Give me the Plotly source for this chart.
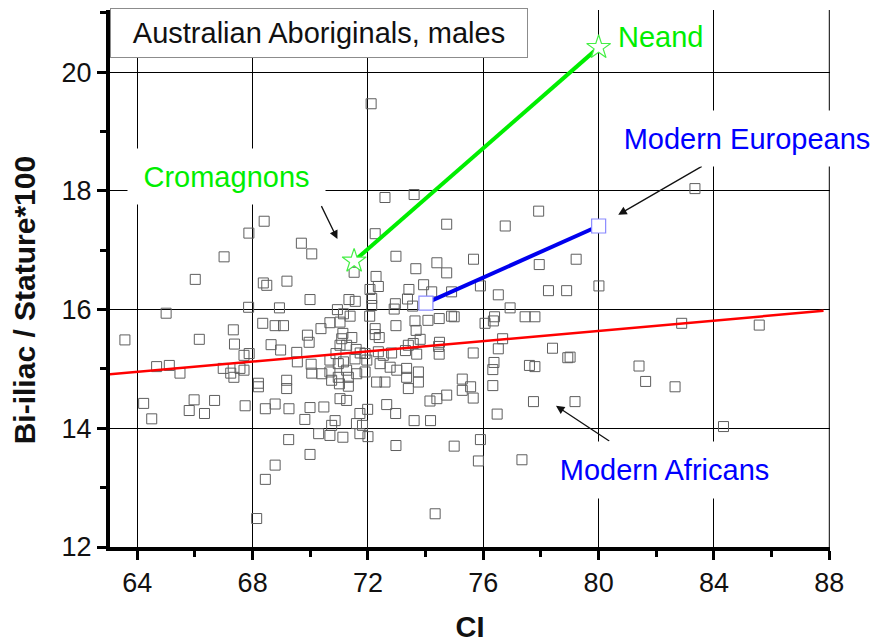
import plotly.graph_objects as go

# Australian Aboriginal males: CI vs Bi-iliac/Stature*100
ci = [72.11, 72.59, 73.60, 77.92, 83.34, 74.73, 76.76, 68.40, 67.87, 69.69,
      70.05, 67.01, 66.01, 68.37, 68.49, 69.19, 72.25, 72.97, 73.66, 74.39,
      74.73, 71.52, 72.28, 72.36, 72.07, 75.66, 77.94, 79.22, 73.42, 73.93,
      74.21, 74.90, 75.90, 76.52, 78.26, 78.89, 80.01, 69.99, 71.34, 71.56,
      72.13, 72.13, 72.95, 72.91, 73.37, 73.55, 68.93, 70.94, 67.86, 65.00,
      76.93, 74.99, 76.06, 76.39, 76.35, 77.45, 77.79, 82.88, 85.57, 71.38,
      72.06, 72.97, 73.63, 74.08, 74.47, 74.90, 68.35, 68.78, 69.07, 70.37,
      70.68, 71.03, 71.15, 67.33, 72.25, 72.25, 72.39, 73.67, 73.81, 69.90,
      69.96, 71.13, 71.09, 71.44, 71.26, 71.03, 73.57, 74.48, 74.45, 76.67,
      76.52, 75.65, 78.40, 78.93, 63.57, 66.15, 67.37, 67.70, 67.88, 68.64,
      68.97, 69.53, 70.89, 71.59, 71.73, 72.36, 72.53, 72.82, 73.30, 73.40,
      73.69, 74.47, 71.90, 71.55, 71.96, 79.01, 70.03, 70.05, 70.40, 70.68,
      70.68, 70.74, 70.97, 70.97, 71.01, 71.26, 71.32, 71.32, 71.61, 71.90,
      72.42, 72.77, 73.00, 73.34, 73.34, 73.75, 73.75, 72.30, 72.59, 73.40,
      71.15, 76.37, 76.33, 77.60, 77.79, 75.27, 75.56, 75.27, 74.73, 75.65,
      76.33, 77.74, 79.18, 81.40, 81.63, 82.65, 64.67, 65.11, 65.48, 66.98,
      67.24, 67.35, 67.56, 67.70, 68.20, 68.20, 69.18, 69.18, 69.55, 74.39,
      74.15, 71.03, 71.26, 64.22, 64.50, 65.80, 65.97, 66.33, 66.68, 67.74,
      68.44, 68.78, 69.26, 69.99, 70.47, 71.72, 71.99, 72.65, 72.96, 69.81,
      70.86, 70.74, 71.60, 71.81, 73.60, 74.17, 76.48, 70.29, 70.68, 71.72,
      72.00, 71.13, 69.25, 69.99, 68.78, 68.44, 68.14, 72.97, 74.99, 75.90,
      75.83, 77.34, 74.33, 84.33]
ratio = [19.47, 17.89, 17.94, 17.66, 18.04, 17.44, 17.41, 17.49, 17.29, 17.12,
         16.94, 16.89, 16.51, 16.45, 16.41, 16.48, 17.28, 16.90, 16.69, 16.79,
         16.62, 16.63, 16.56, 16.39, 16.34, 16.85, 16.76, 16.85, 16.34, 16.42,
         16.30, 16.30, 16.40, 16.25, 16.32, 16.32, 16.40, 16.17, 16.17, 16.14,
         16.19, 16.07, 16.10, 16.01, 16.18, 16.06, 16.03, 16.00, 16.04, 15.94,
         16.03, 15.88, 15.77, 15.88, 15.81, 15.88, 15.88, 15.77, 15.74, 15.89,
         15.89, 15.73, 15.81, 15.82, 15.85, 15.89, 15.77, 15.73, 15.73, 15.68,
         15.78, 15.79, 15.93, 15.66, 15.68, 15.58, 15.53, 15.65, 15.50, 15.57,
         15.45, 15.60, 15.51, 15.53, 15.40, 15.40, 15.43, 15.45, 15.38, 15.51,
         15.34, 15.27, 15.35, 15.19, 15.49, 15.50, 15.42, 15.23, 15.26, 15.41,
         15.32, 15.28, 15.26, 15.33, 15.27, 15.29, 15.23, 15.27, 15.31, 15.40,
         15.25, 15.25, 15.26, 15.17, 15.15, 15.20, 15.08, 14.93, 14.92, 15.15,
         14.95, 14.81, 15.09, 14.86, 14.75, 14.98, 14.86, 14.71, 14.92, 14.95,
         15.09, 15.03, 14.98, 15.01, 14.86, 14.95, 14.78, 14.78, 14.78, 14.67,
         15.12, 15.11, 14.99, 15.06, 15.04, 14.83, 14.70, 14.64, 14.56, 14.51,
         14.72, 14.45, 14.45, 15.05, 14.79, 14.70, 15.04, 15.06, 14.93, 15.01,
         14.93, 14.86, 15.01, 14.98, 14.76, 14.70, 14.81, 14.67, 15.12, 14.50,
         14.46, 14.50, 14.47, 14.42, 14.16, 14.30, 14.48, 14.25, 14.47, 14.38,
         14.33, 14.41, 14.33, 14.35, 14.36, 14.25, 14.32, 14.40, 14.25, 14.15,
         14.13, 14.05, 14.08, 14.05, 14.13, 14.13, 14.24, 13.91, 13.88, 13.91,
         13.86, 13.85, 13.81, 13.56, 13.38, 13.14, 12.48, 13.71, 13.70, 13.81,
         13.45, 13.47, 12.56, 14.03]

# regression line endpoints
fit_x = [63.05, 87.80]
fit_y = [14.91, 15.98]

# Cromagnons -> Neanderthal
fossil_x = [71.52, 80.00]
fossil_y = [16.82, 20.42]

# Australian mean -> Modern Europeans
modern_x = [74.01, 80.00]
modern_y = [16.11, 17.41]

x_ticks = [64, 68, 72, 76, 80, 84, 88]
y_ticks = [12, 14, 16, 18, 20]

FONT = "Liberation Sans, Arial, sans-serif"
GREEN = "#00ee00"
BLUE = "#0000ff"

fig = go.Figure()

fig.add_trace(go.Scatter(
    x=ci, y=ratio, mode="markers",
    marker=dict(symbol="square-open", size=10, color="#5e5e5e", line=dict(width=1)),
    showlegend=False, hoverinfo="skip"))

fig.add_trace(go.Scatter(
    x=fit_x, y=fit_y, mode="lines",
    line=dict(color="#ff0000", width=2.5), showlegend=False))

fig.add_trace(go.Scatter(
    x=fossil_x, y=fossil_y, mode="lines",
    line=dict(color=GREEN, width=4), showlegend=False))
fig.add_trace(go.Scatter(
    x=fossil_x, y=fossil_y, mode="markers",
    marker=dict(symbol="star", size=18, color="white",
                line=dict(color="#44ee44", width=1.2)),
    showlegend=False))

fig.add_trace(go.Scatter(
    x=modern_x, y=modern_y, mode="lines",
    line=dict(color="#0000ee", width=4), showlegend=False))
fig.add_trace(go.Scatter(
    x=modern_x, y=modern_y, mode="markers",
    marker=dict(symbol="square", size=14, color="white",
                line=dict(color="#8a8aff", width=1.2)),
    showlegend=False))

anns = []
# arrows (tail -> head, in data coordinates)
for (tx, ty, hx, hy) in [(70.36, 17.77, 70.94, 17.19),
                         (83.63, 18.43, 80.68, 17.60),
                         (80.42, 13.77, 78.52, 14.38)]:
    anns.append(dict(x=hx, y=hy, ax=tx, ay=ty, xref="x", yref="y",
                     axref="x", ayref="y", text="", showarrow=True,
                     arrowhead=2, arrowsize=1.3, arrowwidth=1.3,
                     arrowcolor="#111111"))

anns += [
    dict(x=67.09, y=18.25, xref="x", yref="y", text="Cromagnons",
         showarrow=False, bgcolor="white", width=197, height=55, borderpad=0,
         font=dict(family=FONT, size=29, color=GREEN)),
    dict(x=85.14, y=18.89, xref="x", yref="y", text="Modern Europeans",
         showarrow=False, bgcolor="white", width=276, height=55, borderpad=0,
         font=dict(family=FONT, size=29, color=BLUE)),
    dict(x=82.28, y=13.30, xref="x", yref="y", text="Modern Africans",
         showarrow=False, bgcolor="white", width=225, height=56, borderpad=0,
         font=dict(family=FONT, size=29, color=BLUE)),
    dict(x=82.13, y=20.60, xref="x", yref="y", text="Neand",
         showarrow=False, font=dict(family=FONT, size=29, color=GREEN)),
    dict(x=0, y=1 + 2 / 537, xref="paper", yref="paper", xanchor="left",
         yanchor="top", text="Australian Aboriginals, males", showarrow=False,
         bgcolor="white", bordercolor="#8c8c8c", borderwidth=1, borderpad=0,
         width=416, height=48,
         font=dict(family=FONT, size=29, color="#111111")),
    # y-axis title placed as rotated text
    dict(x=-86 / 720, y=(546.7 - 300) / 537, xref="paper", yref="paper",
         text="<b>Bi-iliac / Stature*100</b>", textangle=-90,
         showarrow=False, xanchor="center", yanchor="middle",
         font=dict(family=FONT, size=30, color="#111111")),
]

fig.update_layout(
    width=874, height=643,
    margin=dict(l=110, r=44, t=10, b=96, autoexpand=False),
    paper_bgcolor="white", plot_bgcolor="white",
    showlegend=False,
    annotations=anns,
    shapes=[dict(type="line", xref="x", yref="paper", x0=88, x1=88, y0=0, y1=1,
                 line=dict(color="#000000", width=1), layer="below")],
    xaxis=dict(
        range=[63.053, 88.024], tickvals=x_ticks, ticktext=[str(v) for v in x_ticks],
        showgrid=True, gridcolor="#000000", gridwidth=1, zeroline=False,
        showline=True, linecolor="#000000", linewidth=4, automargin=False,
        ticks="outside", ticklen=9, tickwidth=3, tickcolor="#000000",
        minor=dict(ticks="outside", ticklen=6, tickwidth=3, tickcolor="#000000",
                   dtick=2, tick0=64, showgrid=False),
        tickfont=dict(family=FONT, size=27, color="#111111"),
        title=dict(text="<b>CI</b>", font=dict(family=FONT, size=29, color="#111111"),
                   standoff=22),
    ),
    yaxis=dict(
        range=[12, 21.05], tickvals=y_ticks, ticktext=[str(v) for v in y_ticks],
        showgrid=True, gridcolor="#000000", gridwidth=1, zeroline=False,
        showline=True, linecolor="#000000", linewidth=4, automargin=False,
        ticks="outside", ticklen=9, tickwidth=3, tickcolor="#000000",
        minor=dict(ticks="outside", ticklen=6, tickwidth=3, tickcolor="#000000",
                   dtick=1, tick0=12, showgrid=False),
        tickfont=dict(family=FONT, size=27, color="#111111"),
    ),
)

fig.write_html("out.html")
